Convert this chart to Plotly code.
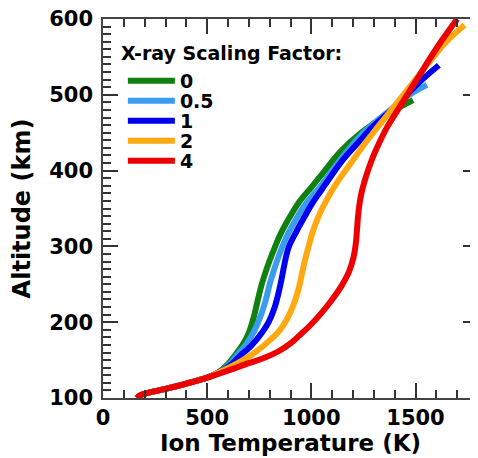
import plotly.graph_objects as go

# ---- data (Ion temperature in K, altitude in km) ----
factors = ["0", "0.5", "1", "2", "4"]
colors = ["#10800f", "#3a9cf0", "#0000ee", "#ffa810", "#ee0000"]

base_T = [163, 175, 205, 300, 400, 500, 550]
base_alt = [100, 103, 106, 112, 119, 127, 133]

green_T = base_T + [590, 630, 670, 700, 722, 742, 762, 785, 815, 850, 895, 940, 1000, 1065, 1140, 1240, 1370, 1488]
green_alt = base_alt + [142, 155, 170, 186, 205, 228, 250, 270, 292, 315, 338, 358, 378, 400, 425, 450, 475, 493]

lblue_T = base_T + [600, 645, 690, 725, 755, 780, 800, 822, 850, 885, 925, 970, 1040, 1100, 1170, 1250, 1370, 1460, 1555]
lblue_alt = base_alt + [143, 157, 172, 188, 207, 228, 250, 270, 292, 315, 335, 355, 378, 400, 425, 450, 478, 498, 513]

blue_T = base_T + [610, 660, 715, 760, 795, 822, 842, 858, 872, 890, 925, 965, 1005, 1050, 1100, 1160, 1235, 1295, 1385, 1465, 1540, 1612]
blue_alt = base_alt + [143, 156, 170, 185, 200, 218, 238, 258, 278, 298, 318, 338, 357, 375, 395, 417, 440, 458, 480, 502, 522, 539]

orange_T = base_T + [640, 729, 800, 850, 885, 913, 935, 952, 968, 985, 1005, 1035, 1075, 1125, 1190, 1255, 1320, 1384, 1448, 1512, 1580, 1648, 1735]
orange_alt = base_alt + [145, 160, 176, 190, 205, 222, 240, 260, 280, 298, 318, 340, 362, 385, 410, 435, 458, 480, 502, 524, 548, 570, 592]

red_T = [163, 175, 205, 300, 400, 513, 609, 700, 775, 845, 900, 945, 995, 1045, 1100, 1145, 1180, 1202, 1214, 1220, 1226, 1238, 1260, 1290, 1325, 1365, 1415, 1465, 1515, 1565, 1617, 1700]
red_alt = [100, 103, 106, 112, 119, 128, 137, 146, 153, 162, 172, 183, 196, 211, 230, 248, 266, 285, 305, 325, 345, 367, 390, 414, 436, 458, 480, 502, 524, 546, 568, 600]

series_T = [green_T, lblue_T, blue_T, orange_T, red_T]
series_alt = [green_alt, lblue_alt, blue_alt, orange_alt, red_alt]

x_ticks = [0, 500, 1000, 1500]
y_ticks = [100, 200, 300, 400, 500, 600]
legend_title = "X-ray Scaling Factor:"

FONT = "DejaVu Sans"

fig = go.Figure()
legend_names = ["legend", "legend2", "legend3", "legend4", "legend5"]
for i in range(len(factors)):
    fig.add_trace(go.Scatter(
        x=series_T[i], y=series_alt[i], mode="lines", name=factors[i],
        line=dict(color=colors[i], width=6, shape="spline", smoothing=1.0),
        legend=legend_names[i],
    ))

# one small legend per series so the row spacing matches the reference
leg_y = [0.8364, 0.7836, 0.7309, 0.6781, 0.6253]
layout_legends = {}
for i, name in enumerate(legend_names):
    layout_legends[name] = dict(
        x=0.053, xanchor="left", y=leg_y[i], yanchor="middle",
        bgcolor="rgba(0,0,0,0)", borderwidth=0, itemwidth=47,
        font=dict(family=FONT, size=19, color="black", weight="bold"),
    )

axis_common = dict(
    showline=True, linecolor="#444", linewidth=1.5, mirror="ticks",
    ticks="inside", ticklen=15, tickwidth=1.5, tickcolor="#333",
    showgrid=False, zeroline=False, automargin=False,
    ticklabeloverflow="allow",
    tickfont=dict(family=FONT, size=21, color="black", weight="bold"),
)

# page body has an 8px default margin, so the figure is sized to fit the window
fig.update_layout(
    width=470, height=450,
    margin=dict(l=95, r=0, t=11, b=60, autoexpand=False),
    paper_bgcolor="white", plot_bgcolor="white",
    showlegend=True,
    xaxis=dict(axis_common, range=[0, 1800], tickvals=x_ticks,
               minor=dict(dtick=100, tick0=0, ticks="inside", ticklen=8, tickwidth=1.5, tickcolor="#333"),
               title=dict(text="Ion Temperature (K)", standoff=0,
                          font=dict(family=FONT, size=23, color="black", weight="bold"))),
    yaxis=dict(axis_common, range=[100, 600], tickvals=y_ticks,
               minor=dict(dtick=10, tick0=100, ticks="inside", ticklen=8, tickwidth=1.5, tickcolor="#333"),
               ticklabelstandoff=4,
               title=dict(text="Altitude (km)", standoff=12,
                          font=dict(family=FONT, size=24, color="black", weight="bold"))),
    annotations=[dict(text=legend_title, xref="paper", yref="paper", x=0.0427, y=0.910,
                      xanchor="left", yanchor="middle", showarrow=False,
                      font=dict(family=FONT, size=19, color="black", weight="bold"))],
    **layout_legends,
)

fig.write_html("out.html")
